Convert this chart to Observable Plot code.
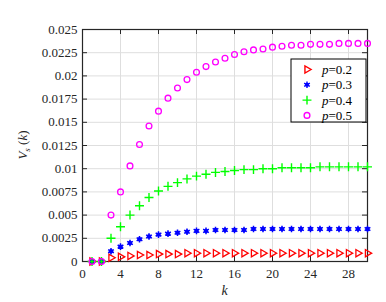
<!DOCTYPE html>
<html>
<head>
<meta charset="utf-8">
<script src="https://cdn.jsdelivr.net/npm/d3@7"></script>
<script src="https://cdn.jsdelivr.net/npm/@observablehq/plot@0.6"></script>
<style>
  html, body { margin: 0; padding: 0; background: #fff; }
  #chart { width: 386px; height: 302px; }
  #chart svg text { font-family: "Liberation Serif", "Times New Roman", "DejaVu Serif", serif; }
</style>
</head>
<body>
<div id="chart"></div>
<script>
const kValues = [1,2,3,4,5,6,7,8,9,10,11,12,13,14,15,16,17,18,19,20,21,22,23,24,25,26,27,28,29,30];
const p02 = [0,0,0.0004,0.0005,0.0006,0.0007,0.0007,0.0008,0.0008,0.0008,0.0009,0.0009,0.0009,0.0009,0.0009,0.0009,0.0009,0.0009,0.0009,0.0009,0.0009,0.0009,0.0009,0.0009,0.0009,0.0009,0.0009,0.0009,0.0009,0.0009];
const p03 = [0,0,0.0011,0.0016,0.0020,0.0024,0.0027,0.0029,0.0030,0.0031,0.0032,0.0033,0.0033,0.0034,0.0034,0.0034,0.0034,0.0035,0.0035,0.0035,0.0035,0.0035,0.0035,0.0035,0.0035,0.0035,0.0035,0.0035,0.0035,0.0035];
const p04 = [0,0,0.0025,0.00375,0.0050,0.0060,0.0069,0.0076,0.0081,0.0085,0.0089,0.0092,0.0094,0.0096,0.0097,0.0098,0.0099,0.0099,0.0100,0.0100,0.0101,0.0101,0.0101,0.0101,0.0102,0.0102,0.0102,0.0102,0.0102,0.0102];
const p05 = [0,0,0.0050,0.0075,0.0103,0.0126,0.0146,0.0162,0.0176,0.0187,0.0196,0.0204,0.0210,0.0215,0.0219,0.0223,0.0226,0.0228,0.0229,0.0231,0.0232,0.0233,0.0233,0.0234,0.0234,0.0234,0.0235,0.0235,0.0235,0.0235];
const xTicks = [0,4,8,12,16,20,24,28];
const yTicks = [0,0.0025,0.005,0.0075,0.01,0.0125,0.015,0.0175,0.02,0.0225,0.025];
const seriesLabels = ["p=0.2","p=0.3","p=0.4","p=0.5"];
const seriesColors = ["#ff0000","#0000ff","#00ff00","#ff00ff"];

const W = 386, H = 302;
const mL = 82, mT = 29, mR = 19, mB = 41;
const pw = W - mL - mR, ph = H - mT - mB;
const serif = "'Liberation Serif','Times New Roman','DejaVu Serif',serif";
const axisColor = "#262626";

const rows = (vals) => kValues.map((k, i) => ({k, v: vals[i]}));
const fmtY = d => String(+d.toFixed(4));

const chart = Plot.plot({
  width: W, height: H,
  marginLeft: mL, marginTop: mT, marginRight: mR, marginBottom: mB,
  style: {fontFamily: serif, fontSize: "13px", color: axisColor, background: "#fff", overflow: "visible"},
  x: {domain: [0, 30], label: null},
  y: {domain: [0, 0.025], label: null},
  marks: [
    Plot.gridX(xTicks, {stroke: "#dedede", strokeOpacity: 1}),
    Plot.gridY(yTicks, {stroke: "#dedede", strokeOpacity: 1}),
    Plot.axisX(xTicks, {tickSize: 0, tickPadding: 7, tickFormat: d => String(d), fill: axisColor, fontSize: 13, label: null}),
    Plot.axisY(yTicks, {tickSize: 0, tickPadding: 5, tickFormat: fmtY, fill: axisColor, fontSize: 13, label: null}),
    // inner ticks (MATLAB style) on all sides
    Plot.tickY(yTicks, {y: d => d, insetRight: pw - 5, stroke: axisColor}),
    Plot.tickY(yTicks, {y: d => d, insetLeft: pw - 5, stroke: axisColor}),
    Plot.tickX(xTicks, {x: d => d, insetTop: ph - 5, stroke: axisColor}),
    Plot.tickX(xTicks, {x: d => d, insetBottom: ph - 5, stroke: axisColor}),
    Plot.frame({stroke: axisColor, strokeWidth: 1.2}),
    // series
    Plot.dot(rows(p02), {x: "k", y: "v", symbol: "triangle", rotate: 90, r: 2.7, stroke: seriesColors[0], fill: "none", strokeWidth: 1.3}),
    Plot.dot(rows(p03), {x: "k", y: "v", symbol: "asterisk", r: 3.1, stroke: seriesColors[1], fill: "none", strokeWidth: 1.5}),
    Plot.dot(rows(p03), {x: "k", y: "v", symbol: "circle", r: 2.2, fill: seriesColors[1], stroke: "none"}),
    Plot.dot(rows(p04), {x: "k", y: "v", symbol: "plus", r: 3.0, stroke: seriesColors[2], fill: "none", strokeWidth: 1.4}),
    Plot.dot(rows(p05), {x: "k", y: "v", symbol: "circle", r: 2.9, stroke: seriesColors[3], fill: "none", strokeWidth: 1.3})
  ]
});
document.getElementById("chart").appendChild(chart);

const svg = d3.select(chart);
// axis labels
const yl = svg.append("text")
  .attr("transform", `translate(27,${mT + ph / 2}) rotate(-90)`)
  .attr("text-anchor", "middle")
  .attr("font-family", serif).attr("font-size", 13).attr("fill", axisColor);
yl.append("tspan").attr("font-style", "italic").text("V");
yl.append("tspan").attr("font-style", "italic").attr("font-size", 9).attr("dy", 3).text("s");
yl.append("tspan").attr("dy", -3).text(" (");
yl.append("tspan").attr("font-style", "italic").text("k");
yl.append("tspan").text(")");

svg.append("text")
  .attr("x", mL + pw / 2).attr("y", 295)
  .attr("text-anchor", "middle")
  .attr("font-family", serif).attr("font-size", 14).attr("font-style", "italic").attr("fill", axisColor)
  .text("k");

// legend
const lg = svg.append("g").attr("transform", "translate(291,59)");
lg.append("rect").attr("width", 75).attr("height", 63).attr("fill", "#fff").attr("stroke", "#000").attr("stroke-width", 1);
const symbolsDef = [
  {type: d3.symbolTriangle, rotate: 90, size: 22, stroke: seriesColors[0]},
  {type: d3.symbolAsterisk, rotate: 0, size: 30, stroke: seriesColors[1], dot: true},
  {type: d3.symbolPlus, rotate: 0, size: 28, stroke: seriesColors[2]},
  {type: d3.symbolCircle, rotate: 0, size: 26, stroke: seriesColors[3]}
];
seriesLabels.forEach((lab, i) => {
  const y = 10.5 + i * 15.3;
  const s = symbolsDef[i];
  lg.append("path")
    .attr("transform", `translate(16,${y}) rotate(${s.rotate})`)
    .attr("d", d3.symbol(s.type, s.size)())
    .attr("fill", "none").attr("stroke", s.stroke).attr("stroke-width", 1.4);
  if (s.dot) lg.append("circle").attr("cx", 16).attr("cy", y).attr("r", 2.0).attr("fill", s.stroke);
  const t = lg.append("text").attr("x", 31).attr("y", y + 4.5)
    .attr("text-anchor", "start")
    .attr("font-family", serif).attr("font-size", 13).attr("fill", "#000");
  const [pp, rest] = lab.split("=");
  t.append("tspan").attr("font-style", "italic").text(pp);
  t.append("tspan").text("=" + rest);
});
</script>
</body>
</html>
